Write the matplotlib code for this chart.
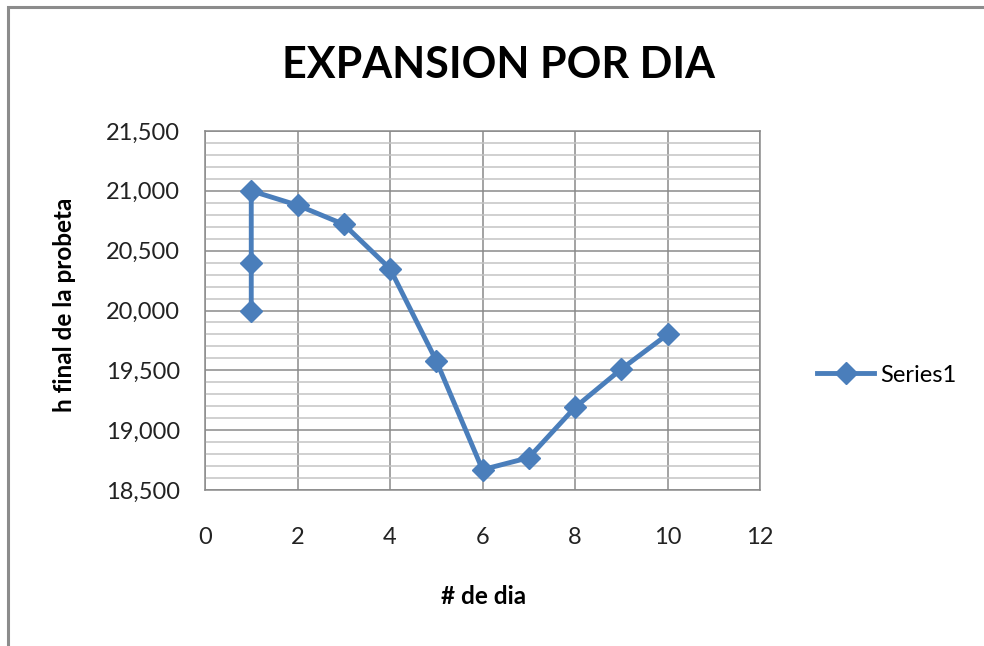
import matplotlib
matplotlib.use("Agg")
import matplotlib.pyplot as plt
from matplotlib.ticker import MultipleLocator, FuncFormatter
from matplotlib.lines import Line2D
from matplotlib.patches import Rectangle

# Data: final specimen height per day
dias = [1, 1, 1, 2, 3, 4, 5, 6, 7, 8, 9, 10]
altura = [20000, 20400, 21000, 20880, 20720, 20350, 19580, 18670, 18770, 19190, 19510, 19800]

titulo = "EXPANSION POR DIA"
etiqueta_x = "# de dia"
etiqueta_y = "h final de la probeta"
serie = "Series1"

azul = "#4a7ebb"
plt.rcParams["font.family"] = ["Lato", "DejaVu Sans"]

fig = plt.figure(figsize=(9.84, 6.46), dpi=100)
fig.patch.set_facecolor("white")

# chart frame
fig.add_artist(Rectangle((8 / 984, -0.1), 1.2, (646 - 7) / 646 + 0.1,
                         transform=fig.transFigure, fill=False,
                         edgecolor="#8c8c8c", linewidth=2.2))

ax = fig.add_axes([205 / 984, 1 - 490 / 646, 555 / 984, 359 / 646])
ax.set_xlim(0, 12)
ax.set_ylim(18500, 21500)

ax.xaxis.set_major_locator(MultipleLocator(2))
ax.yaxis.set_major_locator(MultipleLocator(500))
ax.yaxis.set_minor_locator(MultipleLocator(100))
ax.yaxis.set_major_formatter(FuncFormatter(lambda v, p: f"{int(v):,}"))

ax.grid(True, which="major", axis="both", color="#8a8a8a", linewidth=1.1)
ax.grid(True, which="minor", axis="y", color="#c4c4c4", linewidth=1.1)
ax.set_axisbelow(True)

for s in ax.spines.values():
    s.set_color("#8a8a8a")
    s.set_linewidth(1.1)

ax.tick_params(axis="both", which="both", length=0, labelsize=17, colors="#222222")
ax.tick_params(axis="y", pad=18)
ax.tick_params(axis="x", pad=27)

ax.plot(dias, altura, color=azul, linewidth=3.5, marker="D", markersize=11,
        markerfacecolor=azul, markeredgecolor=azul, zorder=3)

fig.text(499 / 984, 1 - 65 / 646, titulo, ha="center", va="center",
         fontsize=31, fontweight="bold", color="#000000")
fig.text(484 / 984, 1 - 597 / 646, etiqueta_x, ha="center", va="center",
         fontsize=17.5, fontweight="bold", color="#000000")
fig.text(64 / 984, 1 - 305 / 646, etiqueta_y, ha="center", va="center",
         rotation=90, fontsize=17.5, fontweight="bold", color="#000000")

handle = Line2D([], [], color=azul, linewidth=3.5, marker="D", markersize=11,
                markerfacecolor=azul, markeredgecolor=azul)
fig.legend([handle], [serie], loc="center left",
           bbox_to_anchor=(796 / 984, 1 - 375 / 646), frameon=False,
           fontsize=17, handlelength=2.4, handletextpad=0.25)

fig.savefig("out.png", dpi=100, facecolor="white")
